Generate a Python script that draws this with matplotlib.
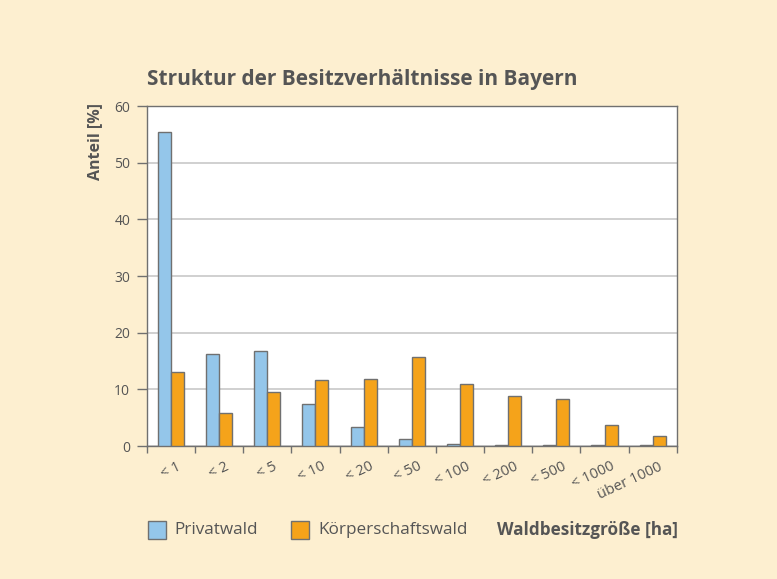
import numpy as np
import matplotlib.pyplot as plt
import matplotlib.transforms as mtransforms
from matplotlib.patches import Rectangle

kategorien = ['< 1', '< 2', '< 5', '< 10', '< 20', '< 50', '< 100', '< 200', '< 500', '< 1000', 'über 1000']
privatwald = [55.4, 16.2, 16.7, 7.5, 3.3, 1.2, 0.3, 0.2, 0.1, 0.1, 0.1]
koerperschaftswald = [13.1, 5.8, 9.5, 11.7, 11.9, 15.7, 10.9, 8.8, 8.3, 3.7, 1.8]

plt.rcParams['font.family'] = ['Open Sans', 'DejaVu Sans']
bg = '#fdefd0'
blau = '#94c6ea'
orange = '#f5a31a'
grau = '#555555'
kante = '#707070'

fig = plt.figure(figsize=(7.77, 5.79), dpi=100, facecolor=bg)
ax = fig.add_axes([0.189, 0.2297, 0.682, 0.5872])
ax.set_facecolor('white')

x = np.arange(len(kategorien))
w = 0.27
ax.bar(x - w/2, privatwald, w, color=blau, edgecolor=kante, linewidth=1, zorder=3)
ax.bar(x + w/2, koerperschaftswald, w, color=orange, edgecolor=kante, linewidth=1, zorder=3)

ax.set_xlim(-0.5, len(kategorien) - 0.5)
ax.set_ylim(0, 60)
ax.set_yticks(range(0, 61, 10))
ax.yaxis.grid(True, color='#c8c8c8', linewidth=1.2, zorder=0)
ax.set_xticks(np.arange(-0.5, len(kategorien)), minor=False)
ax.set_xticklabels([])
ax.set_xticks(x, minor=True)
ax.tick_params(axis='x', which='minor', length=0, pad=9.5)
ax.tick_params(axis='x', which='major', length=5, color=kante, width=1)
ax.tick_params(axis='y', length=7, color=kante, width=1, labelsize=10, labelcolor=grau, pad=5)
ax.set_xticklabels(kategorien, minor=True, rotation=25, ha='right', va='top',
                   rotation_mode='anchor', fontsize=10.5, color=grau)
# Beschriftungen etwas nach rechts schieben (nach tick_params, sonst zurückgesetzt)
verschub = mtransforms.ScaledTranslation(6/100, 0, fig.dpi_scale_trans)
for lbl in ax.get_xticklabels(minor=True):
    lbl.set_transform(lbl.get_transform() + verschub)
for s in ax.spines.values():
    s.set_color(kante)
    s.set_linewidth(1)

fig.text(147/777, 1 - 80/579, 'Struktur der Besitzverhältnisse in Bayern', fontsize=15,
         fontweight='bold', color=grau, va='center', ha='left')
fig.text(95/777, 1 - 103/579, 'Anteil [%]', rotation=90, fontsize=11.5, fontweight='bold',
         color=grau, va='top', ha='center')

ly = 1 - 530/579
ph = 18.5/579
pw = 17.5/777
fig.patches.append(Rectangle((148/777, ly - ph/2), pw, ph, transform=fig.transFigure,
                             facecolor=blau, edgecolor=kante, linewidth=1))
fig.text(174.5/777, ly, 'Privatwald', fontsize=12.3, color=grau, va='center')
fig.patches.append(Rectangle((291/777, ly - ph/2), pw, ph, transform=fig.transFigure,
                             facecolor=orange, edgecolor=kante, linewidth=1))
fig.text(318.5/777, ly, 'Körperschaftswald', fontsize=12.3, color=grau, va='center')
fig.text(678/777, ly, 'Waldbesitzgröße [ha]', fontsize=12.3, fontweight='bold', color=grau,
         va='center', ha='right')

fig.savefig('out.png', dpi=100, facecolor=bg)
